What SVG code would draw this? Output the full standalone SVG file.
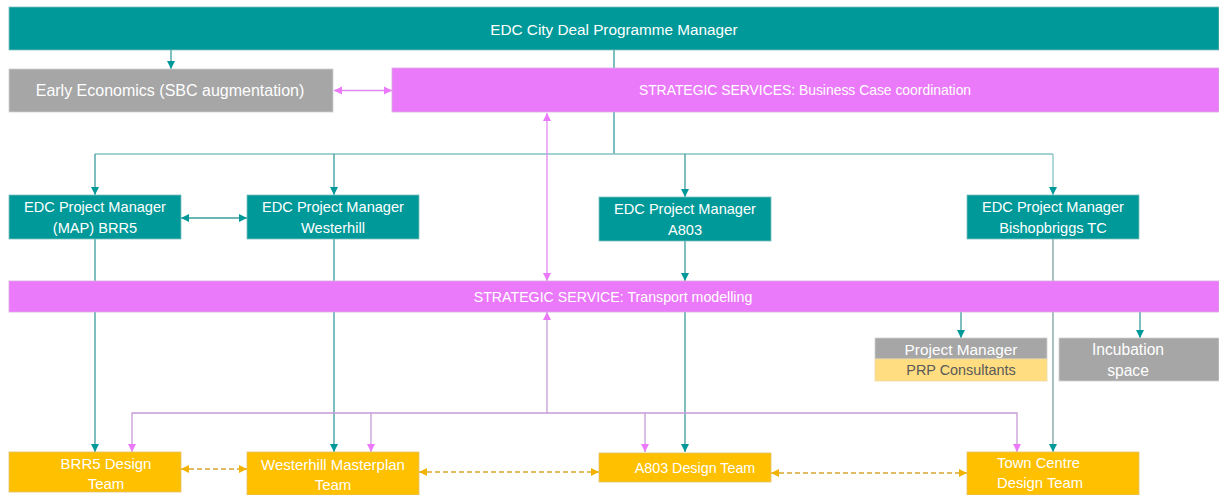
<svg xmlns="http://www.w3.org/2000/svg" width="1219" height="495" viewBox="0 0 1219 495">
<style>
.t{font-family:"Liberation Sans",Arial,sans-serif;fill:#ffffff;text-anchor:middle;dominant-baseline:central;font-size:14.6px}
.teal{fill:#009999;stroke:#7fbfbf;stroke-width:0.8}
.pink{fill:#EB7AFA;stroke:#d9a9e0;stroke-width:0.8}
.gray{fill:#A6A6A6;stroke:#d0d0d0;stroke-width:0.8}
.orng{fill:#FFC000;stroke:#e0c070;stroke-width:0.8}
.ylw{fill:#FFDD80;stroke:#eedca0;stroke-width:0.8}
.ct{fill:none;stroke:#3a9c9c;stroke-width:1.3}
.ctl{fill:none;stroke:#86c3c3;stroke-width:1.3}
.ctg{fill:none;stroke:#93b3b3;stroke-width:1.6}
.cp{fill:none;stroke:#e08af0;stroke-width:1.3}
.cpl{fill:none;stroke:#c79bd6;stroke-width:1.3}
.co{fill:none;stroke:#d9a630;stroke-width:1.3;stroke-dasharray:5 3}
</style>
<defs>
<marker id="at" viewBox="0 0 10 10" refX="10" refY="5" markerWidth="8" markerHeight="9" markerUnits="userSpaceOnUse" orient="auto-start-reverse"><path d="M0,0 L10,5 L0,10 z" fill="#009999"/></marker>
<marker id="ap" viewBox="0 0 10 10" refX="10" refY="5" markerWidth="8" markerHeight="9" markerUnits="userSpaceOnUse" orient="auto-start-reverse"><path d="M0,0 L10,5 L0,10 z" fill="#EB7AFA"/></marker>
<marker id="ao" viewBox="0 0 10 10" refX="10" refY="5" markerWidth="8" markerHeight="9" markerUnits="userSpaceOnUse" orient="auto-start-reverse"><path d="M0,0 L10,5 L0,10 z" fill="#F2B200"/></marker>
</defs>
<rect width="1219" height="495" fill="#ffffff"/>
<g id="connectors">
<path class="ct" d="M171,50 V69" marker-end="url(#at)"/>
<path class="cp" d="M334,90.5 H392" marker-start="url(#ap)" marker-end="url(#ap)"/>
<path class="ct" d="M614,50 V68"/>
<path class="ct" d="M614,112 V154"/>
<path class="ctl" d="M95,154 H1053"/>
<path class="ct" d="M95,154 V195" marker-end="url(#at)"/>
<path class="ct" d="M334,154 V195" marker-end="url(#at)"/>
<path class="ct" d="M685,154 V197" marker-end="url(#at)"/>
<path class="ctl" d="M1053,154 V195" marker-end="url(#at)"/>
<path class="ct" d="M181,218 H247" marker-start="url(#at)" marker-end="url(#at)"/>
<path class="cp" d="M547,113 V281" marker-start="url(#ap)" marker-end="url(#ap)"/>
<path class="ct" d="M95,239 V452" marker-end="url(#at)"/>
<path class="ct" d="M334,239 V452" marker-end="url(#at)"/>
<path class="ct" d="M685,241 V281" marker-end="url(#at)"/>
<path class="ct" d="M685,312 V452" marker-end="url(#at)"/>
<path class="ctg" d="M1053,239 V452" marker-end="url(#at)"/>
<path class="cpl" d="M547,413 V312" marker-end="url(#ap)"/>
<path class="cpl" d="M132,452 V413 H1017 V452" marker-start="url(#ap)" marker-end="url(#ap)"/>
<path class="cpl" d="M371,413 V452" marker-end="url(#ap)"/>
<path class="cpl" d="M645,413 V452" marker-end="url(#ap)"/>
<path class="ct" d="M961,312 V338" marker-end="url(#at)"/>
<path class="ct" d="M1140,312 V338" marker-end="url(#at)"/>
<path class="co" d="M181,469 H247" marker-start="url(#ao)" marker-end="url(#ao)"/>
<path class="co" d="M419,472 H599" marker-start="url(#ao)" marker-end="url(#ao)"/>
<path class="co" d="M771,473 H967" marker-start="url(#ao)" marker-end="url(#ao)"/>
</g>
<g id="programme-manager"><rect class="teal" x="9" y="7" width="1210" height="43"/><text class="t" x="614" y="29" style="font-size:15.3px">EDC City Deal Programme Manager</text></g>
<g id="early-economics"><rect class="gray" x="9" y="69" width="324" height="43"/><text class="t" x="170" y="90.5" style="font-size:16px">Early Economics (SBC augmentation)</text></g>
<g id="business-case"><rect class="pink" x="392" y="68" width="827" height="44"/><text class="t" x="805" y="90" style="font-size:13.9px">STRATEGIC SERVICES: Business Case coordination</text></g>
<g id="pm-brr5"><rect class="teal" x="9" y="195" width="172" height="44"/><text class="t" x="95" y="207">EDC Project Manager</text><text class="t" x="95" y="228">(MAP) BRR5</text></g>
<g id="pm-westerhill"><rect class="teal" x="247" y="195" width="172" height="44"/><text class="t" x="333" y="207">EDC Project Manager</text><text class="t" x="333" y="228">Westerhill</text></g>
<g id="pm-a803"><rect class="teal" x="599" y="197" width="172" height="44"/><text class="t" x="685" y="209">EDC Project Manager</text><text class="t" x="685" y="230">A803</text></g>
<g id="pm-bishopbriggs"><rect class="teal" x="967" y="195" width="172" height="44"/><text class="t" x="1053" y="207">EDC Project Manager</text><text class="t" x="1053" y="228">Bishopbriggs TC</text></g>
<g id="transport-modelling"><rect class="pink" x="9" y="281" width="1210" height="31"/><text class="t" x="613" y="296.5" style="font-size:14.2px">STRATEGIC SERVICE: Transport modelling</text></g>
<g id="prp"><rect class="gray" x="875" y="338" width="172" height="21"/><rect class="ylw" x="875" y="359" width="172" height="22"/><text class="t" x="961" y="349" style="font-size:15.4px">Project Manager</text><text class="t" x="961" y="370" style="fill:#595959;font-size:14.4px">PRP Consultants</text></g>
<g id="incubation"><rect class="gray" x="1059" y="338" width="160" height="43"/><text class="t" x="1128" y="349" style="font-size:15.6px">Incubation</text><text class="t" x="1128" y="370" style="font-size:15.6px">space</text></g>
<g id="brr5-design"><rect class="orng" x="9" y="452" width="172" height="40"/><text class="t" x="106" y="463" style="font-size:15px">BRR5 Design</text><text class="t" x="106" y="483" style="font-size:15px">Team</text></g>
<g id="westerhill-design"><rect class="orng" x="247" y="452" width="172" height="43"/><text class="t" x="333" y="464" style="font-size:15px">Westerhill Masterplan</text><text class="t" x="333" y="484" style="font-size:15px">Team</text></g>
<g id="a803-design"><rect class="orng" x="599" y="453" width="172" height="29"/><text class="t" x="695" y="468" style="font-size:14.3px">A803 Design Team</text></g>
<g id="town-centre-design"><rect class="orng" x="967" y="452" width="172" height="43"/><text class="t" x="997" y="463" style="text-anchor:start;font-size:14.8px">Town Centre</text><text class="t" x="997" y="483" style="text-anchor:start;font-size:14.8px">Design Team</text></g>
</svg>
